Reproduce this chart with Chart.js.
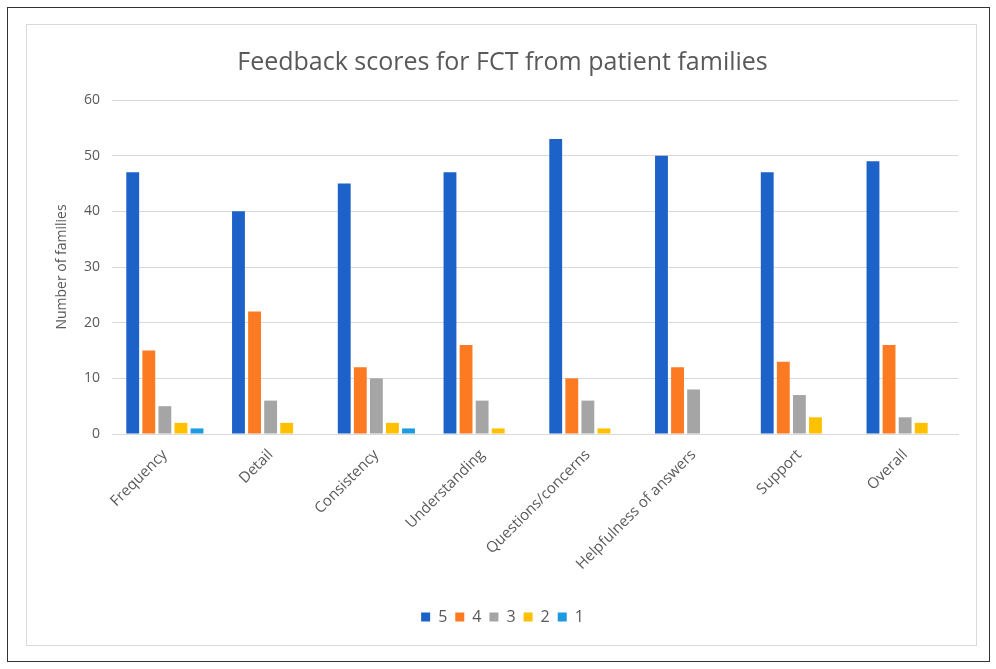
<!DOCTYPE html>
<html>
<head>
<meta charset="utf-8">
<script src="https://cdn.jsdelivr.net/npm/chart.js@4.4.0/dist/chart.umd.min.js"></script>
<style>
  html, body { margin: 0; padding: 0; background: #fff; }
  #frame { position: absolute; left: 7px; top: 7px; width: 981px; height: 653px; border: 1px solid #333; }
  #box { position: absolute; left: 26px; top: 24px; width: 949px; height: 620px; border: 1px solid #d9d9d9; }
  #chart { display: block; }
</style>
</head>
<body>
<div id="frame"></div>
<div id="box"><canvas id="chart" width="949" height="620"></canvas></div>
<script>
const categories = ['Frequency', 'Detail', 'Consistency', 'Understanding', 'Questions/concerns', 'Helpfulness of answers', 'Support', 'Overall'];
const score5 = [47, 40, 45, 47, 53, 50, 47, 49];
const score4 = [15, 22, 12, 16, 10, 12, 13, 16];
const score3 = [5, 6, 10, 6, 6, 8, 7, 3];
const score2 = [2, 2, 2, 1, 1, 0, 3, 2];
const score1 = [1, 0, 1, 0, 0, 0, 0, 0];
const yTicks = [0, 10, 20, 30, 40, 50, 60];

document.addEventListener('DOMContentLoaded', () => {
    const textColor = '#595959';
    const font = "'Open Sans', 'Liberation Sans', sans-serif";

    const ctx = document.getElementById('chart');
    new Chart(ctx, {
        type: 'bar',
        data: {
            labels: categories,
            datasets: [
                { label: '5', data: score5, backgroundColor: '#1c62c9' },
                { label: '4', data: score4, backgroundColor: '#fb7a22' },
                { label: '3', data: score3, backgroundColor: '#a5a5a5' },
                { label: '2', data: score2, backgroundColor: '#ffc000' },
                { label: '1', data: score1, backgroundColor: '#1e9be0' }
            ]
        },
        options: {
            responsive: false,
            animation: false,
            datasets: { bar: { barPercentage: 0.8, categoryPercentage: 0.76 } },
            layout: { padding: { left: 20, right: 18, top: 0, bottom: 10 } },
            plugins: {
                title: {
                    display: true,
                    text: 'Feedback scores for FCT from patient families',
                    color: textColor,
                    font: { family: font, size: 25, weight: 'normal' },
                    padding: { top: 23, bottom: 22 }
                },
                legend: {
                    position: 'bottom',
                    labels: {
                        color: textColor,
                        font: { family: font, size: 16 },
                        boxWidth: 9,
                        boxHeight: 9,
                        padding: 8
                    }
                },
                tooltip: { enabled: false }
            },
            scales: {
                x: {
                    grid: { display: false },
                    border: { display: true, color: '#d9d9d9' },
                    ticks: {
                        color: textColor,
                        font: { family: font, size: 15 },
                        maxRotation: 45,
                        minRotation: 45,
                        padding: 4
                    },
                    afterFit(scale) { scale.height = 167; }
                },
                y: {
                    min: 0,
                    max: 60,
                    afterBuildTicks(scale) { scale.ticks = yTicks.map(v => ({ value: v })); },
                    grid: { color: '#d9d9d9', drawTicks: false },
                    border: { display: false },
                    ticks: {
                        color: textColor,
                        font: { family: font, size: 14 },
                        padding: 12
                    },
                    title: {
                        display: true,
                        text: 'Number of families',
                        color: textColor,
                        font: { family: font, size: 14 },
                        padding: { top: 7, bottom: 0 }
                    },
                    afterFit(scale) { scale.width = 65; }
                }
            }
        }
    });
});
</script>
</body>
</html>
